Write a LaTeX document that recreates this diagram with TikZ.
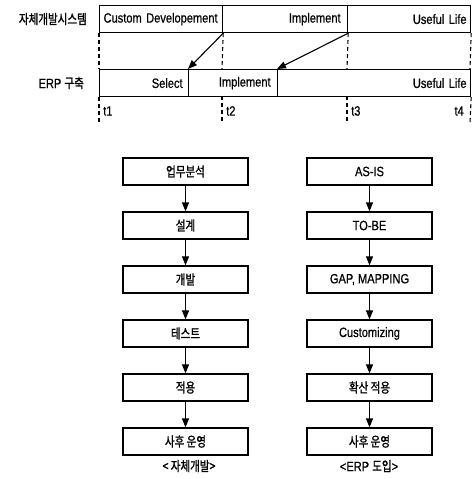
\documentclass[tikz,border=0pt]{standalone}
\usepackage{fontspec}
\setmainfont{Liberation Sans}[FakeStretch=0.82, FakeBold=0.6]
\newfontfamily\kr{Noto Sans CJK KR}[FakeStretch=0.78, FakeBold=1.2]
\usetikzlibrary{arrows.meta}
\begin{document}
\begin{tikzpicture}[x=1pt,y=-1pt,
  font=\fontsize{13.5}{14}\selectfont,
  tlbox/.style={draw, line width=1.2pt, minimum height=27pt, inner ysep=0pt, inner xsep=4pt, anchor=north west},
  flowbox/.style={draw, line width=1.2pt, minimum width=125pt, minimum height=27pt, inner sep=0pt},
  dashln/.style={line width=1.1pt, dash pattern=on 4pt off 3pt},
  arr/.style={line width=1.1pt, -{Triangle[length=9pt,width=7pt]}},
  lbl/.style={inner sep=0pt},
  krt/.style={font=\kr\fontsize{13.5}{14}\selectfont}
]
\useasboundingbox (0,0) rectangle (472,479);

% timeline row 1
\node[tlbox, minimum width=123pt, text width=115pt, align=left] (a1) at (99,5) {Custom Developement};
\node[tlbox, minimum width=125pt, text width=111pt, align=right, inner xsep=7pt] (a2) at (222,5) {Implement};
\node[tlbox, minimum width=123pt, text width=115pt, align=right] (a3) at (347,5) {Useful Life};
% timeline row 2
\node[tlbox, minimum width=89pt, text width=77pt, align=right, inner xsep=6pt] (b1) at (99,69) {Select};
\node[tlbox, minimum width=89pt, text width=75pt, align=right, inner xsep=7pt] (b2) at (188,69) {Implement};
\node[tlbox, minimum width=193pt, text width=185pt, align=right] (b3) at (277,69) {Useful Life};

% row labels
\node[lbl, krt, anchor=east] (l1) at (87,19) {자체개발시스템};
\node[lbl, anchor=east] (l2) at (84,83) {ERP {\kr\fontsize{13.5}{14}\selectfont 구축}};

% coordinates for dashed lines
\coordinate (u2) at (222,69);
\coordinate (u3) at (347,69);
\coordinate (u4) at (470,69);
\coordinate (v2) at (222,96);
\coordinate (v3) at (347,96);
\coordinate (d1) at (99,123);
\coordinate (d2) at (222,123);
\coordinate (d3) at (347,123);
\coordinate (d4) at (470,123);

\draw[dashln] (a1.south west) -- (b1.north west);
\draw[dashln] (a1.south east) -- (u2);
\draw[dashln] (a2.south east) -- (u3);
\draw[dashln] (a3.south east) -- (u4);
\draw[dashln] (b1.south west) -- (d1);
\draw[dashln] (v2) -- (d2);
\draw[dashln] (v3) -- (d3);
\draw[dashln] (b3.south east) -- (d4);

% time labels
\node[lbl, anchor=west] (t1) at (103,111) {t1};
\node[lbl, anchor=west] (t2) at (226,111) {t2};
\node[lbl, anchor=west] (t3) at (351,111) {t3};
\node[lbl, anchor=east] (t4) at (464,111) {t4};

% diagonal arrows
\draw[arr] (a1.south east) -- (b2.north west);
\draw[arr] (a2.south east) -- (b3.north west);

% left flowchart
\node[flowbox, krt] (p1) at (185.5,171.5) {업무분석};
\node[flowbox, krt] (p2) at (185.5,225.5) {설계};
\node[flowbox, krt] (p3) at (185.5,279.5) {개발};
\node[flowbox, krt] (p4) at (185.5,333.5) {테스트};
\node[flowbox, krt] (p5) at (185.5,387.5) {적용};
\node[flowbox, krt] (p6) at (185.5,441.5) {사후 운영};
\foreach \i/\j in {p1/p2,p2/p3,p3/p4,p4/p5,p5/p6} \draw[arr] (\i.south) -- (\j.north);
\node[lbl, krt] (c1) at (189,466) {< 자체개발>};

% right flowchart
\node[flowbox] (q1) at (369.5,171.5) {AS-IS};
\node[flowbox] (q2) at (369.5,225.5) {TO-BE};
\node[flowbox] (q3) at (369.5,279.5) {GAP, MAPPING};
\node[flowbox] (q4) at (369.5,333.5) {Customizing};
\node[flowbox, krt] (q5) at (369.5,387.5) {확산 적용};
\node[flowbox, krt] (q6) at (369.5,441.5) {사후 운영};
\foreach \i/\j in {q1/q2,q2/q3,q3/q4,q4/q5,q5/q6} \draw[arr] (\i.south) -- (\j.north);
\node[lbl] (c2) at (369,466) {<ERP {\kr\fontsize{13.5}{14}\selectfont 도입}>};
\end{tikzpicture}
\end{document}
